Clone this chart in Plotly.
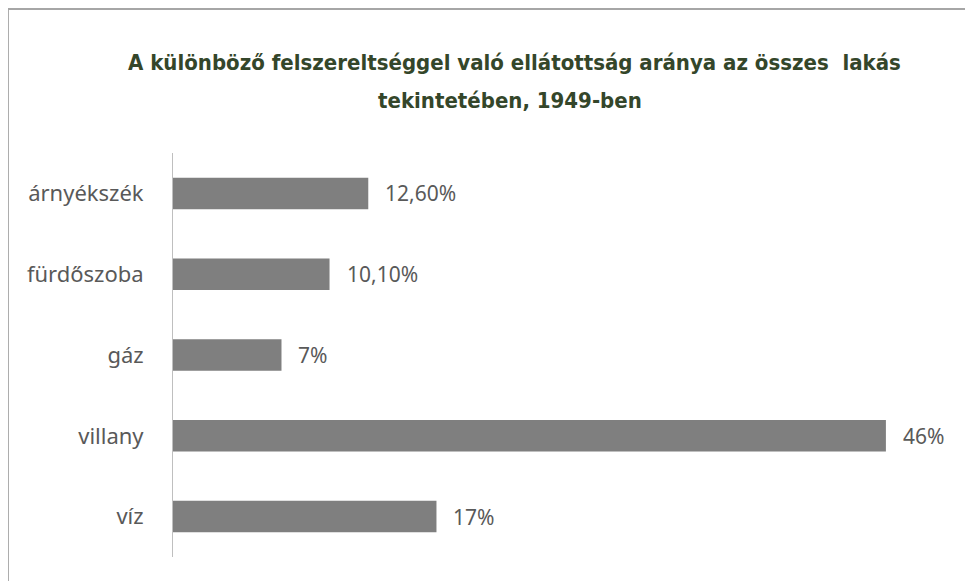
import plotly.graph_objects as go

categories = ["árnyékszék", "fürdőszoba", "gáz", "villany", "víz"]
values = [12.6, 10.1, 7, 46, 17]
value_labels = ["12,60%", "10,10%", "7%", "46%", "17%"]
title_line1 = "A különböző felszereltséggel való ellátottság aránya az összes  lakás"
title_line2 = "tekintetében, 1949-ben"

OFF = 8  # page offset of the figure
W, H = 973 - OFF, 581 - OFF
L, T = 173 - OFF, 153 - OFF
pw, ph = 774.6, 404
R = W - L - pw
B = H - T - ph

def px_x(p):
    return (p - OFF - L) / pw

def px_y(p):
    return (T + ph - (p - OFF)) / ph

fig = go.Figure()
fig.add_trace(go.Bar(
    x=values, y=categories, orientation="h",
    marker=dict(color="#7f7f7f", line=dict(width=0)),
    hoverinfo="skip",
))

annotations = []
for c, v, t in zip(categories, values, value_labels):
    annotations.append(dict(
        x=v, y=c, xref="x", yref="y", text=t, showarrow=False,
        xanchor="left", xshift=15,
        font=dict(family="Noto Sans", size=21, color="#595959"),
    ))

title_font = dict(family="DejaVu Sans Condensed, Noto Sans", size=22, color="#34462a")
annotations.append(dict(
    x=px_x(514), y=px_y(62), xref="paper", yref="paper", text="<b>" + title_line1 + "</b>",
    showarrow=False, xanchor="center", yanchor="middle", font=title_font,
))
annotations.append(dict(
    x=px_x(510), y=px_y(100), xref="paper", yref="paper", text="<b>" + title_line2 + "</b>",
    showarrow=False, xanchor="center", yanchor="middle", font=title_font,
))

fig.update_layout(
    width=W, height=H,
    margin=dict(l=L, r=R, t=T, b=B, autoexpand=False),
    paper_bgcolor="white", plot_bgcolor="white",
    showlegend=False,
    bargap=0.61,
    annotations=annotations,
    shapes=[dict(
        type="rect", xref="paper", yref="paper",
        x0=px_x(8), x1=px_x(971), y0=px_y(590), y1=px_y(9),
        line=dict(color="#a6a6a6", width=2), fillcolor="rgba(0,0,0,0)", layer="below",
    )],
    xaxis=dict(range=[0, pw / 15.49], visible=False, fixedrange=True),
    yaxis=dict(
        categoryorder="array", categoryarray=categories, autorange="reversed",
        showline=True, linecolor="#bfbfbf", linewidth=1,
        showgrid=False, zeroline=False, ticks="",
        ticklabelstandoff=24,
        tickfont=dict(family="Noto Sans", size=22, color="#595959"),
    ),
)

fig.write_html("out.html")
